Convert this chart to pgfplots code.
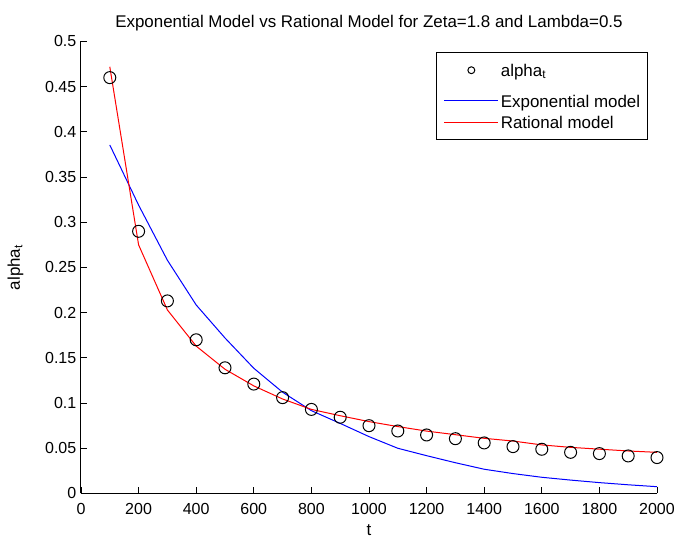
\documentclass[border=0pt]{standalone}
\usepackage{fontspec}
\setmainfont{Liberation Sans}
\usepackage{pgfplots}
\pgfplotsset{compat=1.18}

% observed alpha_t
\pgfplotstableread{
t     a
100   0.460
200   0.290
300   0.213
400   0.170
500   0.139
600   0.121
700   0.106
800   0.093
900   0.0843
1000  0.0750
1100  0.0691
1200  0.0647
1300  0.0606
1400  0.0559
1500  0.0518
1600  0.0489
1700  0.0455
1800  0.0441
1900  0.0415
2000  0.0397
}\obsdata

% exponential model fit
\pgfplotstableread{
t     a
100   0.3855
200   0.319
300   0.258
400   0.2085
500   0.172
600   0.1385
700   0.112
800   0.0916
900   0.0775
1000  0.0629
1100  0.0500
1200  0.0418
1300  0.0340
1400  0.0268
1500  0.0220
1600  0.0179
1700  0.0148
1800  0.0120
1900  0.0096
2000  0.0075
}\expdata

% rational model fit
\pgfplotstableread{
t     a
100   0.472
200   0.275
300   0.203
400   0.163
500   0.1374
600   0.119
700   0.1045
800   0.093
900   0.086
1000  0.0795
1100  0.074
1200  0.069
1300  0.065
1400  0.061
1500  0.058
1600  0.0537
1700  0.051
1800  0.049
1900  0.047
2000  0.0455
}\ratdata

\newcommand\bigfont{\fontsize{12.7pt}{15pt}\selectfont}
\newcommand\tickfont{\fontsize{12pt}{14pt}\selectfont}

\begin{document}
\begin{tikzpicture}[font=\bigfont]
\begin{axis}[
  name=ax, at={(0,0)}, anchor=south west,
  scale only axis, width=432pt, height=339pt,
  xmin=0, xmax=2000, ymin=0, ymax=0.5,
  axis lines*=left,
  axis line style={line width=0.75pt, -},
  tick style={line width=0.6pt, black},
  tick align=inside, major tick length=4.5pt,
  xtick={0,200,...,2000},
  ytick={0,0.05,...,0.5},
  scaled y ticks=false,
  /pgf/number format/assume math mode=true,
  xticklabel style={/pgf/number format/1000 sep={}, anchor=base, yshift=-16.1pt},
  yticklabel style={/pgf/number format/fixed, /pgf/number format/precision=2},
  ticklabel style={font=\tickfont},
  clip=false,
  every axis title shift=0pt,
  title={Exponential Model vs Rational Model for Zeta=1.8 and Lambda=0.5},
  title style={at={(0.5,1)}, anchor=base, yshift=10.35pt, font=\bigfont},
  xlabel={t},
  xlabel style={at={(0.5,0)}, anchor=base, yshift=-31.3pt, font=\bigfont},
  ylabel={alpha\textsubscript{t}},
  ylabel style={at={(0,0.5)}, anchor=base, yshift=45.75pt, font=\bigfont},
  legend cell align=left,
  legend style={at={(1,1)}, anchor=north east, xshift=-6.75pt, yshift=-7.6pt,
    line width=0.75pt, inner xsep=5.5pt, inner ysep=3pt,
    font=\bigfont, row sep=0pt, column sep=1.5pt,
    cells={anchor=base west},
    nodes={inner sep=0pt, text depth=}},
]
\addplot[only marks, mark=o, mark size=4.5pt, mark options={line width=0.75pt, black},
  legend image code/.code={\draw[draw=black, line width=0.75pt] plot[mark=o, mark size=2.6pt] coordinates {(20.25pt,4.6pt)};}]
  table[x=t, y=a] {\obsdata};
\addlegendentry{\rule[-12pt]{0pt}{27.2pt}alpha\textsubscript{t}}
\addplot[blue, line width=0.75pt, no marks,
  legend image code/.code={\draw[draw=blue, line width=0.75pt] (0pt,4.6pt) -- (40.5pt,4.6pt);}]
  table[x=t, y=a] {\expdata};
\addlegendentry{\rule[-5.2pt]{0pt}{16.2pt}Exponential model}
\addplot[red, line width=0.75pt, no marks,
  legend image code/.code={\draw[draw=red, line width=0.75pt] (0pt,4.6pt) -- (40.5pt,4.6pt);}]
  table[x=t, y=a] {\ratdata};
\addlegendentry{\rule[-5pt]{0pt}{16pt}Rational model}
\end{axis}
\pgfresetboundingbox
\path[use as bounding box] (-60.75pt,-34pt) rectangle (446.25pt,370.1pt);
\end{tikzpicture}
\end{document}
